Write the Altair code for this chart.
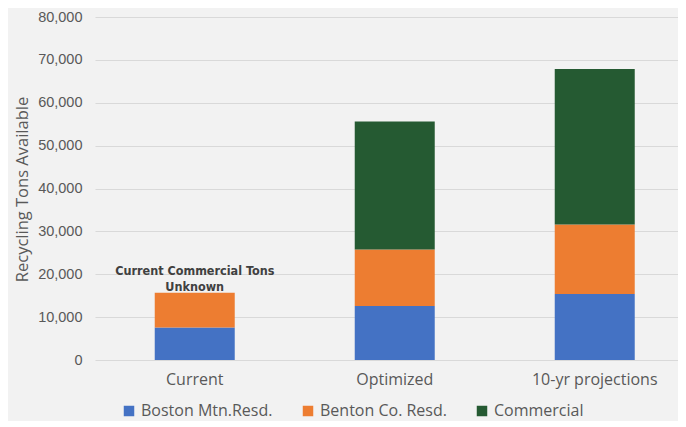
import altair as alt
import pandas as pd

categories = ["Current", "Optimized", "10-yr projections"]
series = ["Boston Mtn.Resd.", "Benton Co. Resd.", "Commercial"]
boston = [7600, 12600, 15400]
benton = [8100, 13200, 16200]
commercial = [None, 29800, 36300]
colors = ["#4472C4", "#ED7D31", "#255A32"]

annotation_text = ["Current Commercial Tons", "Unknown"]
annotation_cat = "Current"

rows = []
for i, cat in enumerate(categories):
    for j, (name, vals) in enumerate(zip(series, [boston, benton, commercial])):
        if vals[i] is not None:
            rows.append({"category": cat, "series": name, "value": vals[i], "idx": j})
df = pd.DataFrame(rows)

tot = df[df.category == annotation_cat]["value"].sum()
ann = pd.DataFrame([{"category": annotation_cat, "value": tot, "text": annotation_text}])

FONT = "Open Sans"
GREY = "#595959"

x = alt.X("category:N", sort=categories, title=None,
          scale=alt.Scale(paddingInner=0.6, paddingOuter=0.2575, align=0.58),
          axis=alt.Axis(labelAngle=0, labelFontSize=16, labelFont=FONT, labelColor=GREY,
                        domain=False, ticks=False, labelPadding=11))

y = alt.Y("value:Q", stack="zero",
          scale=alt.Scale(domain=[0, 80000]),
          axis=alt.Axis(title="Recycling Tons Available", values=list(range(0, 80001, 10000)),
                        format=",.0f", labelFontSize=14.5, labelFont="Liberation Sans", labelColor=GREY,
                        titleFontSize=16.5, titleFont=FONT, titleColor=GREY, titleFontWeight="normal",
                        titleX=-73, titleY=172, titleAngle=-90, titleAlign="center", titleBaseline="middle",
                        domain=False, ticks=False, labelPadding=13,
                        gridColor="#d9d9d9", gridWidth=1))

bars = alt.Chart(df).mark_bar().encode(
    x=x,
    y=y,
    color=alt.Color("series:N", sort=series,
                    scale=alt.Scale(domain=series, range=colors),
                    legend=alt.Legend(title=None, orient="none", direction="horizontal",
                                      legendX=26, legendY=386, symbolType="square", symbolSize=110,
                                      symbolStrokeWidth=0, labelFontSize=16, labelFont=FONT,
                                      labelColor=GREY, columnPadding=27, labelOffset=4)),
    order=alt.Order("idx:Q", sort="ascending"),
)

text = alt.Chart(ann).mark_text(
    font="DejaVu Sans Condensed", fontSize=12.5, fontWeight="bold", color="#404040",
    baseline="bottom", dy=-15, lineHeight=16, align="center"
).encode(
    x=x,
    y=y,
    text="text",
)

chart = (bars + text).properties(
    width=583, height=343,
    padding={"left": 87, "top": 9, "right": 0, "bottom": 61},
    autosize=alt.AutoSizeParams(type="none"),
    background="#f2f2f2",
).configure_view(stroke=None)

chart.save("out.html", embed_options={"renderer": "svg", "actions": False})
